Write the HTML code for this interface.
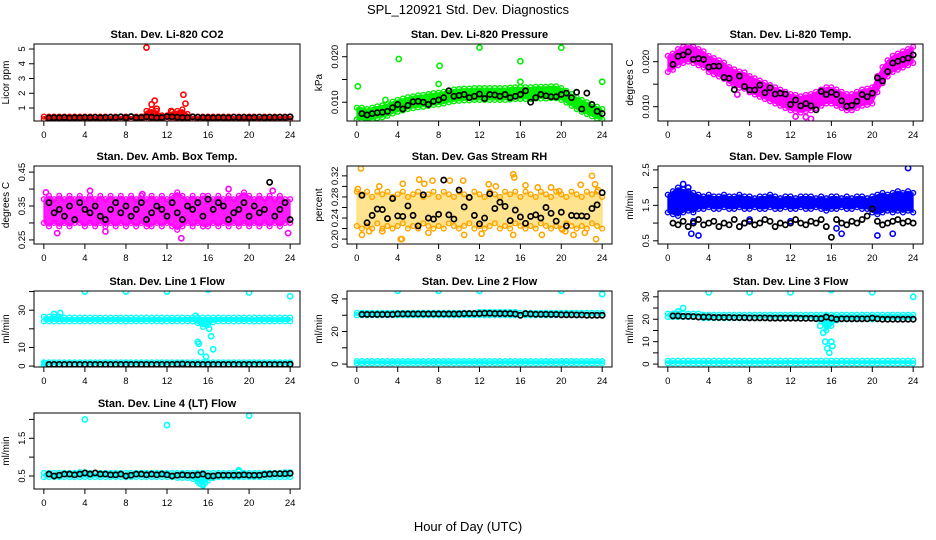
<!DOCTYPE html>
<html><head><meta charset="utf-8"><title>SPL_120921 Std. Dev. Diagnostics</title>
<style>
html,body{margin:0;padding:0;background:#fff;}
svg{display:block;font-family:"Liberation Sans",Arial,sans-serif;}
</style></head>
<body>
<svg id="chart" width="936" height="540" viewBox="0 0 936 540" xmlns="http://www.w3.org/2000/svg">
<rect x="0" y="0" width="936" height="540" fill="#fff"/>
<text x="468" y="14" text-anchor="middle" font-size="13">SPL_120921  Std. Dev. Diagnostics</text>
<text x="468" y="531" text-anchor="middle" font-size="13">Hour of Day (UTC)</text>
</svg>
<script>
const BAND_HOURS=[0,0.5,1,1.5,2,2.5,3,3.5,4,4.5,5,5.5,6,6.5,7,7.5,8,8.5,9,9.5,10,10.5,11,11.5,12,12.5,13,13.5,14,14.5,15,15.5,16,16.5,17,17.5,18,18.5,19,19.5,20,20.5,21,21.5,22,22.5,23,23.5,24];
const BLACK_HOURS=[0.5,1,1.5,2,2.5,3,3.5,4,4.5,5,5.5,6,6.5,7,7.5,8,8.5,9,9.5,10,10.5,11,11.5,12,12.5,13,13.5,14,14.5,15,15.5,16,16.5,17,17.5,18,18.5,19,19.5,20,20.5,21,21.5,22,22.5,23,23.5,24];
const X_TICKS=[0,4,8,12,16,20,24];

// Panel 1: CO2
const p1Lo=[0.25,0.25,0.25,0.25,0.25,0.25,0.25,0.25,0.25,0.25,0.25,0.25,0.25,0.25,0.25,0.25,0.25,0.25,0.25,0.25,0.25,0.25,0.25,0.25,0.25,0.25,0.25,0.25,0.25,0.25,0.25,0.25,0.25,0.25,0.25,0.25,0.25,0.25,0.25,0.25,0.25,0.25,0.25,0.25,0.25,0.25,0.25,0.25,0.25];
const p1Hi=[0.42,0.42,0.42,0.42,0.42,0.42,0.42,0.42,0.42,0.42,0.42,0.42,0.42,0.42,0.42,0.42,0.42,0.42,0.42,0.42,0.8,0.9,0.8,0.5,0.5,0.75,0.8,0.9,0.6,0.42,0.42,0.42,0.42,0.42,0.42,0.42,0.42,0.42,0.42,0.42,0.42,0.42,0.42,0.42,0.42,0.42,0.42,0.42,0.42];
const p1OutH=[10,10.5,10.8,11,12.4,13.6,13.8];
const p1OutV=[5.1,1.25,1.5,0.95,0.8,1.9,1.3];
const p1Black=[.33,.35,.34,.36,.33,.35,.34,.36,.35,.37,.34,.36,.38,.36,.40,.35,.42,.34,.36,.40,.38,.34,.36,.42,.40,.38,.36,.34,.40,.38,.36,.35,.34,.36,.35,.34,.38,.36,.37,.35,.36,.38,.35,.37,.36,.38,.37,.40];
const p1Ticks=[1,2,3,4,5];const p1Labels=["1","2","3","4","5"];

// Panel 2: Pressure
const p2Lo=[.0062,.0062,.0059,.0062,.0065,.0067,.007,.0075,.0079,.0082,.0085,.0087,.0089,.009,.0092,.0094,.0095,.0097,.01,.0102,.0103,.0104,.0104,.0105,.0105,.0105,.0105,.0105,.0105,.0105,.0106,.0107,.0107,.0107,.0107,.0108,.0108,.0108,.0109,.0109,.0105,.0099,.0092,.0085,.0079,.0074,.0069,.0064,.0062];
const p2Hi=[.0088,.0088,.0085,.0088,.0091,.0093,.0096,.0101,.0105,.0108,.0111,.0113,.0115,.0116,.0118,.012,.0121,.0123,.0126,.0128,.0129,.013,.013,.0131,.0131,.0131,.0131,.0131,.0131,.0131,.0132,.0133,.0133,.0133,.0133,.0134,.0134,.0134,.0135,.0135,.0131,.0125,.0118,.0111,.0105,.01,.0095,.009,.0085];
const p2OutH=[0.1,4.1,8.1,12,16,20,24,8,16,2.8];
const p2OutV=[.0135,.0195,.018,.022,.019,.022,.0145,.014,.0145,.0105];
const p2Black=[.0075,.0072,.0075,.0077,.0078,.008,.0088,.0095,.0085,.0093,.0101,.0102,.0100,.0095,.0102,.0105,.0110,.0125,.0113,.0115,.0117,.0110,.0113,.0118,.0108,.0117,.0116,.0113,.0117,.0110,.0113,.0117,.0125,.0100,.0110,.0117,.0114,.0112,.0112,.0117,.0120,.0110,.0122,.0085,.0120,.0095,.0080,.0075];
const p2Ticks=[0.010,0.015,0.020];const p2Labels=["0.010","","0.020"];

// Panel 3: Temp
const p3Lo=[.0177,.0182,.0192,.0197,.02,.0197,.0192,.0187,.0177,.0172,.0167,.0162,.0152,.0147,.0142,.014,.0132,.0127,.0122,.0117,.0112,.0107,.0102,.0097,.0092,.009,.0087,.009,.0092,.0097,.0102,.0107,.0107,.0102,.0097,.0092,.0092,.0097,.0102,.0104,.0107,.0132,.0152,.0167,.0177,.0182,.0187,.0192,.0197];
const p3Hi=[.0213,.0218,.0228,.0233,.0236,.0233,.0228,.0223,.0213,.0208,.0203,.0198,.0188,.0183,.0178,.0176,.0168,.0163,.0158,.0153,.0148,.0143,.0138,.0133,.0128,.0126,.0123,.0126,.0128,.0133,.0138,.0143,.0143,.0138,.0133,.0128,.0128,.0133,.0138,.014,.0143,.0168,.0188,.0203,.0213,.0218,.0223,.0228,.0233];
const p3OutH=[14,6.8,12.5,13.5];
const p3OutV=[.0073,.0127,.0078,.0077];
const p3Black=[.0194,.0212,.0215,.0222,.0205,.0207,.0205,.0188,.019,.019,.0165,.0163,.0138,.0168,.0145,.0137,.0137,.0148,.0131,.0142,.0128,.013,.0128,.0105,.0115,.0102,.0107,.0102,.0093,.0134,.0127,.0132,.0127,.0113,.0101,.0103,.0112,.0127,.0122,.013,.0164,.0157,.0178,.0197,.0201,.0205,.0208,.0215];
const p3Ticks=[0.010,0.015,0.020];const p3Labels=["0.010","","0.020"];

// Panel 4: Amb box temp
const p4Lo=[.30,.29,.30,.29,.30,.29,.30,.30,.29,.30,.29,.30,.29,.30,.29,.30,.29,.30,.29,.30,.29,.29,.30,.29,.30,.29,.28,.29,.30,.29,.30,.29,.29,.30,.29,.30,.29,.30,.29,.30,.29,.30,.29,.30,.29,.30,.29,.30,.30];
const p4Hi=[.37,.38,.37,.38,.37,.38,.37,.38,.37,.38,.37,.38,.37,.38,.37,.38,.37,.38,.37,.38,.37,.38,.37,.38,.37,.38,.39,.38,.37,.38,.37,.38,.38,.37,.38,.37,.38,.37,.38,.39,.38,.37,.38,.37,.38,.37,.38,.37,.37];
const p4OutH=[19,13.4,18,0.2,4.5,9.6,22.3,23.8,1.3,6];
const p4OutV=[.48,.255,.40,.39,.395,.385,.395,.27,.27,.275];
const p4Black=[.36,.33,.34,.32,.35,.31,.36,.34,.33,.35,.32,.31,.34,.36,.33,.35,.32,.34,.36,.31,.33,.35,.34,.32,.36,.33,.31,.35,.34,.36,.32,.37,.34,.36,.35,.31,.33,.34,.36,.32,.35,.33,.34,.42,.32,.34,.36,.31];
const p4Ticks=[0.25,0.30,0.35,0.40,0.45];const p4Labels=["0.25","","0.35","","0.45"];

// Panel 5: Gas stream RH
const p5Lo=[.225,.22,.225,.22,.23,.22,.225,.22,.225,.23,.22,.225,.22,.23,.225,.22,.225,.22,.23,.225,.22,.225,.23,.22,.225,.22,.225,.23,.22,.225,.22,.23,.225,.22,.225,.22,.23,.225,.22,.225,.22,.23,.225,.22,.225,.22,.23,.225,.22];
const p5Hi=[.29,.285,.29,.28,.29,.285,.29,.28,.285,.29,.28,.285,.29,.28,.285,.29,.28,.29,.285,.28,.29,.285,.28,.29,.285,.28,.29,.285,.28,.29,.285,.29,.28,.29,.285,.28,.29,.285,.28,.29,.285,.28,.29,.285,.28,.29,.285,.29,.28];
const p5OutH=[0.4,0.1,1.2,2.2,4.3,4.5,6.1,6.6,7.4,9.1,10.4,12.9,13.6,15.3,15.4,16.5,17.7,19,19.8,20.1,21.9,23,23.3,23.6,0.5,2.5,4.4,7.0,10.5,12.2,15.3,18.1,20.4,21.2,22.3,23.4];
const p5OutV=[.334,.295,.215,.300,.200,.305,.313,.305,.311,.311,.311,.304,.300,.323,.317,.302,.298,.298,.291,.218,.303,.320,.304,.293,.208,.215,.200,.212,.208,.210,.208,.208,.215,.208,.212,.200];
const p5Black=[.283,.231,.245,.257,.256,.239,.277,.244,.243,.263,.245,.225,.284,.240,.238,.247,.312,.246,.238,.293,.261,.279,.245,.229,.240,.286,.258,.270,.262,.235,.255,.242,.230,.243,.246,.240,.260,.249,.234,.251,.225,.245,.244,.244,.243,.258,.265,.288];
const p5Ticks=[0.20,0.22,0.24,0.26,0.28,0.30,0.32];const p5Labels=["0.20","","0.24","","0.28","","0.32"];

// Panel 6: Sample flow
const p6Lo=[1.3,1.25,1.2,1.3,1.35,1.3,1.4,1.4,1.45,1.4,1.4,1.45,1.4,1.4,1.45,1.4,1.4,1.45,1.4,1.4,1.45,1.4,1.4,1.45,1.4,1.4,1.45,1.4,1.4,1.45,1.4,1.35,1.4,1.4,1.45,1.4,1.4,1.45,1.4,1.4,1.3,1.25,1.3,1.35,1.3,1.35,1.3,1.35,1.3];
const p6Hi=[1.8,1.9,2.0,1.95,1.9,1.85,1.8,1.75,1.8,1.75,1.75,1.8,1.75,1.75,1.8,1.75,1.75,1.7,1.75,1.75,1.8,1.75,1.7,1.75,1.75,1.7,1.75,1.75,1.75,1.7,1.75,1.7,1.75,1.75,1.7,1.75,1.7,1.75,1.75,1.7,1.75,1.8,1.85,1.8,1.85,1.9,1.85,1.9,1.85];
const p6OutH=[1.5,2,2.3,3,16.5,17,20.5,22,23.5,2.5,7.5,8,12];
const p6OutV=[2.1,2.0,.7,.65,.85,.7,.65,.7,2.55,1.05,1.0,1.1,1.05];
const p6Black=[1.0,.95,1.05,.9,1.0,1.1,.95,1.0,1.05,.9,1.0,.95,1.1,.9,1.0,1.05,.95,1.0,1.1,1.05,.9,1.0,.95,1.0,1.1,1.0,.95,1.05,1.0,1.1,.9,.6,1.1,1.0,.95,1.05,1.0,1.1,1.2,1.4,1.05,.95,1.0,1.05,1.1,1.0,1.05,1.0];
const p6Ticks=[0.5,1.0,1.5,2.0,2.5];const p6Labels=["0.5","","1.5","","2.5"];

// Panel 7: Line 1 flow
const p7ALo=[24,24,24,24,24,24,24,24,24,24,24,24,24,24,24,24,24,24,24,24,24,24,24,24,24,24,24,24,24,24,23,21,22,23.5,24,24,24,24,24,24,24,24,24,24,24,24,24,24,24];
const p7AHi=[26.5,26.5,26.5,26.5,26,26,26,26,26,26,26,26,26,26,26,26,26,26,26,26,26,26,26,26,26,26,26,26,26,26,26,26,26,26,26,26,26,26,26,26,26,26,26,26,26,26,26,26,26];
const p7BLo=[0.7,0.7,0.7,0.7,0.7,0.7,0.7,0.7,0.7,0.7,0.7,0.7,0.7,0.7,0.7,0.7,0.7,0.7,0.7,0.7,0.7,0.7,0.7,0.7,0.7,0.7,0.7,0.7,0.7,0.7,0.7,0.7,0.7,0.7,0.7,0.7,0.7,0.7,0.7,0.7,0.7,0.7,0.7,0.7,0.7,0.7,0.7,0.7,0.7];
const p7BHi=[2,2,2,2,2,2,2,2,2,2,2,2,2,2,2,2,2,2,2,2,2,2,2,2,2,2,2,2,2,2,2,2,2,2,2,2,2,2,2,2,2,2,2,2,2,2,2,2,2];
const p7OutH=[4,8,12,16,20,24,1.0,1.6,14.8,15,15.1,15.3,15.8,16.1,16.3,16.5,0.1];
const p7OutV=[40,40,40,41,39.5,37.5,28,28.5,27,13,12,7.5,5,20,16,9,1.5];
const p7Black=[.9,.9,.9,.9,.9,.9,.9,.9,.9,.9,.9,.9,.9,.9,.9,.9,.9,.9,.9,.9,.9,.9,.9,.9,.9,1.0,1.1,.9,.9,.9,.9,.9,.9,.9,.9,.9,.9,.9,.9,.9,.9,.9,.9,.9,.9,.9,.9,1.0];
const p7Ticks=[0,10,20,30,40];const p7Labels=["0","10","","30",""];

// Panel 8: Line 2 flow
const p8ALo=[30,30,30,30,30,30,30,30,30,30,30,30,30,30,30,30,30,30,30,30,30,30,30,30,30,30,30,30,30,30,30,30,30,30,30,30,30,30,30,30,30,30,30,30,30,30,30,30,30];
const p8AHi=[31.5,31.5,31.5,31.5,31.5,31.5,31.5,31.5,31.5,31.5,31.5,31.5,31.5,31.5,31.5,31.5,31.5,31.5,31.5,31.5,31.5,31.5,31.5,31.5,32,32,32,32,32,32,32,32,31.5,31.5,31.5,31.5,31.5,31.5,31.5,31.5,31.5,31.5,31.5,31.5,31.5,31.5,31.5,31.5,31.5];
const p8BLo=[0.5,0.5,0.5,0.5,0.5,0.5,0.5,0.5,0.5,0.5,0.5,0.5,0.5,0.5,0.5,0.5,0.5,0.5,0.5,0.5,0.5,0.5,0.5,0.5,0.5,0.5,0.5,0.5,0.5,0.5,0.5,0.5,0.5,0.5,0.5,0.5,0.5,0.5,0.5,0.5,0.5,0.5,0.5,0.5,0.5,0.5,0.5,0.5,0.5];
const p8BHi=[1.8,1.8,1.8,1.8,1.8,1.8,1.8,1.8,1.8,1.8,1.8,1.8,1.8,1.8,1.8,1.8,1.8,1.8,1.8,1.8,1.8,1.8,1.8,1.8,1.8,1.8,1.8,1.8,1.8,1.8,1.8,1.8,1.8,1.8,1.8,1.8,1.8,1.8,1.8,1.8,1.8,1.8,1.8,1.8,1.8,1.8,1.8,1.8,1.8];
const p8OutH=[4,8,12,16,20,24];
const p8OutV=[45,45,45,47,45,43];
const p8Black=[30.5,30.5,30.5,30.5,30.5,30.5,30.5,30.8,30.8,30.8,30.8,30.8,30.8,30.8,30.8,30.8,30.8,30.8,30.8,30.8,31,31,31,31,31.2,31.2,31,31,31,31,30.8,30,31,30.8,30.6,30.6,30.6,30.5,30.5,30.3,30.3,30.3,30.2,30.2,30,30,30,30];
const p8Ticks=[0,10,20,30,40];const p8Labels=["0","","20","","40"];

// Panel 9: Line 3 flow
const p9ALo=[21,21,21,21,21,21,21,20.5,20.5,20.5,20.5,20.5,20.5,20.5,20.5,20.5,20.5,20.5,20.5,20.5,20.5,20.5,20.5,20.5,20.5,20.5,20.5,20.5,20.5,20,19,15,17,19.5,20,20,20,20,20,20,20,20,20,20,20,20,20,20,20];
const p9AHi=[22.5,22.5,22.5,22.5,22.5,22.5,22.5,22,22,22,22,22,22,22,22,22,22,22,22,22,22,22,22,22,22,22,22,22,22,22,22,22,22,22,22,22,22,22,22,22,22,22,22,22,22,22,22,22,22];
const p9BLo=[0.3,0.3,0.3,0.3,0.3,0.3,0.3,0.3,0.3,0.3,0.3,0.3,0.3,0.3,0.3,0.3,0.3,0.3,0.3,0.3,0.3,0.3,0.3,0.3,0.3,0.3,0.3,0.3,0.3,0.3,0.3,0.3,0.3,0.3,0.3,0.3,0.3,0.3,0.3,0.3,0.3,0.3,0.3,0.3,0.3,0.3,0.3,0.3,0.3];
const p9BHi=[1.5,1.5,1.5,1.5,1.5,1.5,1.5,1.5,1.5,1.5,1.5,1.5,1.5,1.5,1.5,1.5,1.5,1.5,1.5,1.5,1.5,1.5,1.5,1.5,1.5,1.5,1.5,1.5,1.5,1.5,1.5,1.5,1.5,1.5,1.5,1.5,1.5,1.5,1.5,1.5,1.5,1.5,1.5,1.5,1.5,1.5,1.5,1.5,1.5];
const p9OutH=[4,8,12,16,20,24,1.5,1.0,15.2,15.4,15.6,15.8,16,16.1,14.9];
const p9OutV=[32,32,32,33,32,30,25,23.5,14,10,7,5,10,8,17];
const p9Black=[21.5,21.5,21.3,21.3,21.2,21,21,21,20.8,20.8,20.8,20.8,20.7,20.7,20.7,20.6,20.6,20.6,20.6,20.5,20.5,20.5,20.5,20.5,20.5,20.4,20.4,20.4,20.3,20.3,21,20.5,20,20.2,20.2,20.2,20.2,20.2,20.2,20.5,20.2,20,20,20,20,20,20,20];
const p9Ticks=[0,5,10,15,20,25,30];const p9Labels=["0","","10","","20","","30"];

// Panel 10: Line 4 flow
const p10Lo=[.47,.47,.47,.47,.47,.47,.47,.47,.47,.47,.47,.47,.47,.47,.47,.47,.47,.47,.47,.47,.47,.47,.47,.47,.47,.47,.45,.45,.45,.42,.35,.28,.38,.45,.47,.47,.47,.47,.47,.47,.47,.47,.47,.47,.47,.47,.47,.47,.47];
const p10Hi=[.58,.58,.58,.58,.58,.58,.58,.6,.6,.58,.58,.58,.58,.58,.58,.58,.58,.58,.58,.58,.58,.58,.58,.58,.58,.58,.58,.58,.58,.58,.58,.58,.58,.58,.58,.58,.58,.58,.62,.58,.58,.58,.58,.58,.58,.58,.58,.6,.6];
const p10OutH=[4,12,20,15.2,15.5,15.7,19];
const p10OutV=[2.0,1.85,2.1,0.3,0.25,0.32,0.65];
const p10Black=[.55,.5,.52,.55,.55,.53,.55,.58,.55,.58,.55,.55,.53,.53,.55,.5,.52,.55,.55,.53,.55,.53,.55,.53,.5,.52,.53,.52,.52,.53,.55,.5,.5,.52,.52,.52,.52,.52,.53,.52,.52,.52,.54,.55,.56,.56,.56,.57];
const p10Ticks=[0.5,1.0,1.5,2.0];const p10Labels=["0.5","","1.5",""];

const COLS=[[34,300],[347,612],[658,923]];
const ROWS=[[44,121],[166,244],[291,367],[413,489]];
const panels=[
 {key:"co2",title:"Stan. Dev. Li-820 CO2",ylab:"Licor ppm",c:0,r:0,ymin:0.12,ymax:5.34,ticks:p1Ticks,labels:p1Labels,color:"#ff0000",fill:"#ff0000",op:1,bands:[[p1Lo,p1Hi]],outH:p1OutH,outV:p1OutV,black:p1Black},
 {key:"pressure",title:"Stan. Dev. Li-820 Pressure",ylab:"kPa",c:1,r:0,ymin:0.00587,ymax:0.0228,ticks:p2Ticks,labels:p2Labels,color:"#00ee00",fill:"#00ee00",op:1,bands:[[p2Lo,p2Hi]],outH:p2OutH,outV:p2OutV,black:p2Black},
 {key:"temp",title:"Stan. Dev. Li-820 Temp.",ylab:"degrees C",c:2,r:0,ymin:0.00682,ymax:0.02393,ticks:p3Ticks,labels:p3Labels,color:"#ff00ff",fill:"#ff00ff",op:1,bands:[[p3Lo,p3Hi]],outH:p3OutH,outV:p3OutV,black:p3Black},
 {key:"amb-box-temp",title:"Stan. Dev. Amb. Box Temp.",ylab:"degrees C",c:0,r:1,ymin:0.238,ymax:0.468,ticks:p4Ticks,labels:p4Labels,color:"#ff00ff",fill:"#ff00ff",op:0.9,bands:[[p4Lo,p4Hi]],outH:p4OutH,outV:p4OutV,black:p4Black},
 {key:"gas-rh",title:"Stan. Dev. Gas Stream RH",ylab:"percent",c:1,r:1,ymin:0.1907,ymax:0.3387,ticks:p5Ticks,labels:p5Labels,color:"#ffa500",fill:"#ffcc33",op:0.55,bands:[[p5Lo,p5Hi]],outH:p5OutH,outV:p5OutV,black:p5Black},
 {key:"sample-flow",title:"Stan. Dev. Sample Flow",ylab:"ml/min",c:2,r:1,ymin:0.41,ymax:2.61,ticks:p6Ticks,labels:p6Labels,color:"#0000ff",fill:"#0000ff",op:1,bands:[[p6Lo,p6Hi]],outH:p6OutH,outV:p6OutV,black:p6Black},
 {key:"line1",title:"Stan. Dev. Line 1 Flow",ylab:"ml/min",c:0,r:2,ymin:-0.5,ymax:40.3,ticks:p7Ticks,labels:p7Labels,color:"#00ffff",fill:"#00ffff",op:1,bands:[[p7ALo,p7AHi],[p7BLo,p7BHi]],outH:p7OutH,outV:p7OutV,black:p7Black},
 {key:"line2",title:"Stan. Dev. Line 2 Flow",ylab:"ml/min",c:1,r:2,ymin:-1.8,ymax:44.9,ticks:p8Ticks,labels:p8Labels,color:"#00ffff",fill:"#00ffff",op:1,bands:[[p8ALo,p8AHi],[p8BLo,p8BHi]],outH:p8OutH,outV:p8OutV,black:p8Black},
 {key:"line3",title:"Stan. Dev. Line 3 Flow",ylab:"ml/min",c:2,r:2,ymin:-1.3,ymax:32.6,ticks:p9Ticks,labels:p9Labels,color:"#00ffff",fill:"#00ffff",op:1,bands:[[p9ALo,p9AHi],[p9BLo,p9BHi]],outH:p9OutH,outV:p9OutV,black:p9Black},
 {key:"line4",title:"Stan. Dev. Line 4 (LT) Flow",ylab:"ml/min",c:0,r:3,ymin:0.155,ymax:2.17,ticks:p10Ticks,labels:p10Labels,color:"#00ffff",fill:"#00ffff",op:1,bands:[[p10Lo,p10Hi]],outH:p10OutH,outV:p10OutV,black:p10Black}
];

const NS="http://www.w3.org/2000/svg";
const svg=document.getElementById("chart");
function mk(tag,attrs,parent){const e=document.createElementNS(NS,tag);for(const k in attrs)e.setAttribute(k,attrs[k]);(parent||svg).appendChild(e);return e;}

panels.forEach((p,pi)=>{
  const L=COLS[p.c][0],R=COLS[p.c][1],T=ROWS[p.r][0],B=ROWS[p.r][1];
  const sx=h=>L+(h+0.96)/25.92*(R-L);
  const sy=v=>B-(v-p.ymin)/(p.ymax-p.ymin)*(B-T);
  const g=mk("g",{});
  
  
  const cp=mk("clipPath",{id:"clip"+pi},g);
  mk("rect",{x:L,y:T,width:R-L,height:B-T},cp);
  const t=mk("text",{x:(L+R)/2,y:T-6,"text-anchor":"middle","font-size":"11","font-weight":"bold"},g);
  t.textContent=p.title;
  
  
  const yl=mk("text",{x:0,y:0,"text-anchor":"middle","font-size":"10",transform:`translate(${L-25},${(T+B)/2}) rotate(-90)`},g);
  yl.textContent=p.ylab;
  
  
  const plot=mk("g",{"clip-path":`url(#clip${pi})`},g);
  
  
  p.bands.forEach(bd=>{
    const lo=bd[0],hi=bd[1];const n=Math.min(lo.length,hi.length,BAND_HOURS.length);
    let pts=[];
    for(let i=0;i<n;i++)pts.push(sx(BAND_HOURS[i])+","+sy(hi[i]));
    for(let i=n-1;i>=0;i--)pts.push(sx(BAND_HOURS[i])+","+sy(lo[i]));
    const poly=mk("polygon",{points:pts.join(" "),fill:p.fill,"fill-opacity":p.op,stroke:p.fill,"stroke-opacity":p.op,"stroke-width":"1","stroke-linejoin":"round"},plot);
    
    
    for(let i=0;i<n;i++){
      [lo[i],hi[i]].forEach(v=>{
        const c=mk("circle",{cx:sx(BAND_HOURS[i]),cy:sy(v),r:2.4,fill:"none",stroke:p.color,"stroke-width":"1.4"},plot);
        
        
      });
    }
  });
  const no=Math.min(p.outH.length,p.outV.length);
  for(let i=0;i<no;i++){
    const c=mk("circle",{cx:sx(p.outH[i]),cy:sy(p.outV[i]),r:2.6,fill:"none",stroke:p.color,"stroke-width":"1.6"},plot);
    
    
  }
  const nb=Math.min(p.black.length,BLACK_HOURS.length);
  for(let i=0;i<nb;i++){
    const c=mk("circle",{cx:sx(BLACK_HOURS[i]),cy:sy(p.black[i]),r:2.6,fill:"none",stroke:"#000","stroke-width":"1.7"},plot);
    
    
  }
  const box=mk("rect",{x:L,y:T,width:R-L,height:B-T,fill:"none",stroke:"#000","stroke-width":"1"},g);
  
  
  const xa=mk("g",{},g);
  
  
  mk("line",{x1:sx(X_TICKS[0]),x2:sx(X_TICKS[X_TICKS.length-1]),y1:B,y2:B,stroke:"#000"},xa);
  X_TICKS.forEach(h=>{
    mk("line",{x1:sx(h),x2:sx(h),y1:B,y2:B+5,stroke:"#000"},xa);
    const tl=mk("text",{x:sx(h),y:B+17,"text-anchor":"middle","font-size":"9.5"},xa);
    tl.textContent=String(h);
    
    
  });
  const ya=mk("g",{},g);
  
  
  mk("line",{x1:L,x2:L,y1:sy(p.ticks[0]),y2:sy(p.ticks[p.ticks.length-1]),stroke:"#000"},ya);
  p.ticks.forEach((v,i)=>{
    mk("line",{x1:L-5,x2:L,y1:sy(v),y2:sy(v),stroke:"#000"},ya);
    if(p.labels[i]){
      const tl=mk("text",{x:0,y:0,"text-anchor":"middle","font-size":"9.5",transform:`translate(${L-9},${sy(v)}) rotate(-90)`},ya);
      tl.textContent=p.labels[i];
      
      
    }
  });
});
</script>
</body></html>
